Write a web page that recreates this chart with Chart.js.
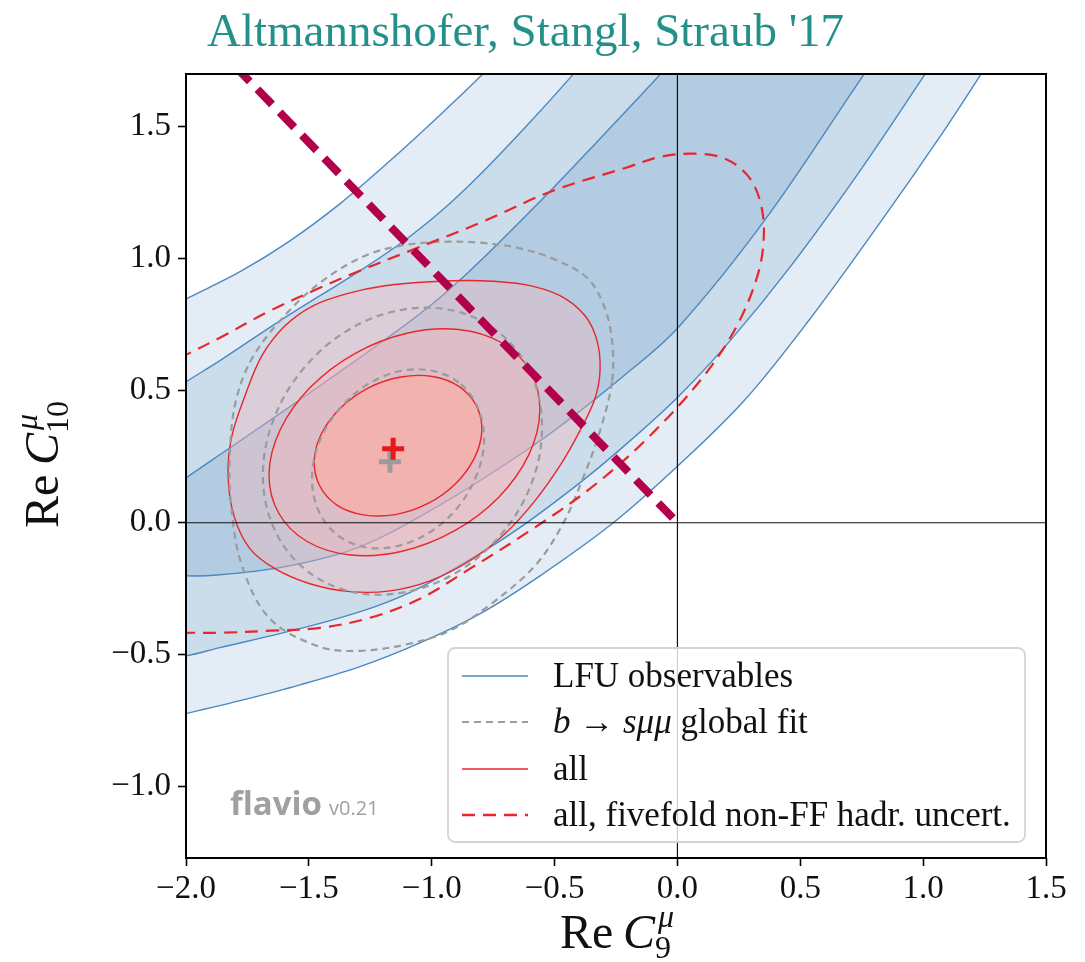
<!DOCTYPE html>
<html>
<head>
<meta charset="utf-8">
<script src="https://cdn.jsdelivr.net/npm/chart.js@4.4.0/dist/chart.umd.min.js"></script>
<style>
  html, body { margin: 0; padding: 0; background: #fff; }
  #wrap { width: 1085px; height: 962px; }
</style>
</head>
<body>
<div id="wrap"><canvas id="fit" width="1085" height="962"></canvas></div>
<script>
// axis ticks
const xTicks = [-2.0, -1.5, -1.0, -0.5, 0.0, 0.5, 1.0, 1.5];
const yTicks = [-1.0, -0.5, 0.0, 0.5, 1.0, 1.5];

// LFU observables: edges of the 1/2/3 sigma bands, [C9, C10]
const lfu3Upper = [[-2.27,0.72],[-2.0,0.848],[-1.78,0.951],[-1.577,1.068],[-1.374,1.208],[-1.17,1.371],[-0.966,1.545],[-0.795,1.697],[-0.6,1.883]];
const lfu3Lower = [[-2.27,-0.788],[-2.0,-0.723],[-1.78,-0.674],[-1.536,-0.614],[-1.292,-0.545],[-1.048,-0.455],[-0.804,-0.345],[-0.559,-0.201],[-0.266,-0.004],[-0.002,0.212],[0.271,0.462],[0.54,0.773],[0.824,1.136],[1.068,1.462],[1.231,1.693],[1.354,1.871]];
const lfu2Upper = [[-2.27,0.371],[-2.0,0.534],[-1.862,0.614],[-1.618,0.765],[-1.28,0.962],[-1.101,1.076],[-0.946,1.193],[-0.804,1.318],[-0.621,1.496],[-0.43,1.693],[-0.274,1.864]];
const lfu2Lower = [[-2.27,-0.534],[-2.0,-0.504],[-1.862,-0.473],[-1.618,-0.42],[-1.414,-0.371],[-1.21,-0.311],[-1.048,-0.246],[-0.804,-0.117],[-0.625,-0.008],[-0.396,0.152],[-0.234,0.277],[-0.002,0.473],[0.214,0.689],[0.462,0.973],[0.743,1.333],[1.003,1.693],[1.15,1.902]];
const lfu1Upper = [[-2.27,-0.008],[-2.0,0.17],[-1.821,0.284],[-1.426,0.538],[-1.048,0.792],[-0.844,0.955],[-0.56,1.216],[-0.315,1.455],[-0.075,1.693],[0.092,1.864]];
const lfu1Lower = [[-2.27,-0.182],[-2.0,-0.201],[-1.862,-0.197],[-1.618,-0.17],[-1.373,-0.117],[-1.21,-0.057],[-1.048,0.023],[-0.804,0.159],[-0.519,0.337],[-0.218,0.557],[0.002,0.739],[0.36,1.152],[0.755,1.693],[0.905,1.894]];

// "all" fit contours (closed)
const all1 = [[-0.818,0.443],[-0.796,0.348],[-0.827,0.244],[-0.904,0.147],[-1.017,0.072],[-1.148,0.031],[-1.278,0.030],[-1.386,0.067],[-1.456,0.140],[-1.478,0.236],[-1.448,0.339],[-1.370,0.436],[-1.257,0.511],[-1.126,0.552],[-0.997,0.554],[-0.888,0.516]];
const all2 = [[-0.598,0.573],[-0.560,0.423],[-0.605,0.257],[-0.727,0.097],[-0.908,-0.031],[-1.120,-0.108],[-1.330,-0.122],[-1.507,-0.071],[-1.623,0.037],[-1.662,0.186],[-1.616,0.353],[-1.494,0.513],[-1.313,0.641],[-1.101,0.718],[-0.891,0.732],[-0.714,0.681]];
const all3 = [[-0.315,0.576],[-0.327,0.689],[-0.376,0.784],[-0.478,0.860],[-0.620,0.902],[-0.804,0.917],[-1.007,0.913],[-1.190,0.898],[-1.332,0.871],[-1.483,0.822],[-1.597,0.746],[-1.691,0.633],[-1.760,0.481],[-1.813,0.330],[-1.829,0.186],[-1.805,0.027],[-1.740,-0.098],[-1.638,-0.174],[-1.496,-0.231],[-1.332,-0.261],[-1.170,-0.258],[-1.007,-0.220],[-0.844,-0.144],[-0.702,-0.042],[-0.580,0.083],[-0.478,0.216],[-0.397,0.348],[-0.336,0.470]];

// b -> s mu mu global fit contours (closed)
const global1 = [[-0.882,0.525],[-0.810,0.431],[-0.787,0.309],[-0.818,0.178],[-0.897,0.055],[-1.013,-0.039],[-1.148,-0.090],[-1.280,-0.091],[-1.392,-0.040],[-1.464,0.053],[-1.487,0.175],[-1.457,0.307],[-1.377,0.430],[-1.261,0.524],[-1.127,0.575],[-0.994,0.575]];
const global2 = [[-0.717,0.714],[-0.593,0.559],[-0.551,0.361],[-0.594,0.148],[-0.718,-0.045],[-0.902,-0.190],[-1.120,-0.265],[-1.337,-0.259],[-1.521,-0.172],[-1.644,-0.017],[-1.687,0.181],[-1.643,0.393],[-1.520,0.586],[-1.336,0.732],[-1.118,0.807],[-0.901,0.801]];
const global3 = [[-0.266,0.538],[-0.266,0.689],[-0.299,0.822],[-0.368,0.928],[-0.506,1.000],[-0.653,1.042],[-0.804,1.061],[-0.967,1.064],[-1.129,1.049],[-1.280,1.008],[-1.455,0.909],[-1.610,0.773],[-1.732,0.621],[-1.797,0.462],[-1.821,0.273],[-1.817,0.072],[-1.772,-0.163],[-1.658,-0.364],[-1.455,-0.470],[-1.292,-0.485],[-1.089,-0.458],[-0.926,-0.409],[-0.763,-0.311],[-0.580,-0.163],[-0.466,-0.004],[-0.384,0.170],[-0.315,0.348]];

// all, fivefold non-FF hadronic uncertainty (runs off the left edge)
const allFivefold = [[-2.187,-0.424],[-2.0,-0.417],[-1.862,-0.417],[-1.658,-0.409],[-1.455,-0.398],[-1.251,-0.360],[-1.048,-0.288],[-0.844,-0.174],[-0.600,-0.030],[-0.356,0.129],[-0.132,0.311],[0.092,0.538],[0.238,0.739],[0.328,0.943],[0.352,1.095],[0.336,1.220],[0.287,1.314],[0.194,1.379],[0.072,1.398],[-0.071,1.386],[-0.209,1.345],[-0.506,1.258],[-0.804,1.136],[-1.089,1.030],[-1.292,0.955],[-1.455,0.890],[-1.658,0.803],[-1.862,0.701],[-2.0,0.636],[-2.187,0.549]];

// thick dashed direction line and best fit points
const directionLine = [[-1.80,1.729],[0.0,0.0]];
const bestFitAll = [[-1.157,0.280]];
const bestFitGlobal = [[-1.170,0.231]];

const legendLabels = ['LFU observables', 'b \u2192 s\u03bc\u03bc global fit', 'all', 'all, fivefold non-FF hadr. uncert.'];

const serif = '"Liberation Serif", "Times New Roman", serif';
const blueLine = '#4a88c2';
const redLine = '#e8262c';
const greyLine = '#9b9b9b';

const pts = arr => arr.map(([x, y]) => ({x, y}));
const band = (upper, lower) => pts(upper.concat(lower.slice().reverse()));

function lineSet(data, opts) {
  return Object.assign({
    data, showLine: true, pointRadius: 0, tension: 0.35, capBezierPoints: false,
    clip: 0, fill: false, borderWidth: 1.4
  }, opts);
}

const datasets = [
  lineSet(band(lfu3Upper, lfu3Lower), {order: 20, fill: 'shape', backgroundColor: '#e4edf5', borderColor: blueLine}),
  lineSet(band(lfu2Upper, lfu2Lower), {order: 19, fill: 'shape', backgroundColor: '#cbdcea', borderColor: blueLine}),
  lineSet(band(lfu1Upper, lfu1Lower), {order: 18, fill: 'shape', backgroundColor: '#b3cce2', borderColor: blueLine}),
  lineSet(pts(all3), {order: 15, closed: true, fill: 'shape', backgroundColor: 'rgba(255,180,180,0.33)', borderColor: redLine}),
  lineSet(pts(all2), {order: 14, closed: true, fill: 'shape', backgroundColor: 'rgba(255,175,175,0.33)', borderColor: redLine}),
  lineSet(pts(all1), {order: 13, closed: true, fill: 'shape', backgroundColor: 'rgba(255,170,160,0.6)', borderColor: redLine}),
  lineSet(pts(global3), {order: 10, closed: true, borderColor: greyLine, borderWidth: 2.2, borderDash: [7, 5]}),
  lineSet(pts(global2), {order: 9, closed: true, borderColor: greyLine, borderWidth: 2.2, borderDash: [7, 5]}),
  lineSet(pts(global1), {order: 8, closed: true, borderColor: greyLine, borderWidth: 2.2, borderDash: [7, 5]}),
  lineSet(pts(allFivefold), {order: 7, borderColor: redLine, borderWidth: 2.2, borderDash: [13, 8]}),
  lineSet(pts(directionLine), {order: 5, tension: 0, borderColor: '#b3004a', borderWidth: 8, borderDash: [21, 11]}),
  {data: pts(bestFitGlobal), order: 2, pointStyle: 'cross', pointRadius: 11, pointBorderWidth: 5, pointBorderColor: '#9b9b9b', showLine: false},
  {data: pts(bestFitAll), order: 1, pointStyle: 'cross', pointRadius: 11, pointBorderWidth: 5, pointBorderColor: '#e31a1c', showLine: false}
];

// closed contours: let the spline wrap round
const closeLoops = {
  id: 'closeLoops',
  afterDatasetUpdate(chart, args) {
    const ds = chart.data.datasets[args.index];
    if (ds.closed && args.meta.dataset) {
      args.meta.dataset._loop = true;
      args.meta.dataset._fullLoop = true;
    }
  }
};

function drawRuns(ctx, runs, x, y) {
  for (const [text, style, size, dy] of runs) {
    ctx.font = `${style} ${size}px ${serif}`;
    ctx.fillText(text, x, y + (dy || 0));
    x += ctx.measureText(text).width;
  }
  return x;
}

function axisLabel(ctx, x, y, sub) {
  let cx = drawRuns(ctx, [['Re', 'normal', 48], ['\u2009', 'normal', 48], ['C', 'italic', 48]], x, y);
  ctx.font = `italic 32px ${serif}`;
  ctx.fillText('\u03bc', cx + 3, y - 21);
  ctx.font = `normal 32px ${serif}`;
  ctx.fillText(sub, cx, y + 10);
}

const decor = {
  id: 'decor',
  afterDatasetsDraw(chart) {
    const {ctx, chartArea: a, scales: {x, y}} = chart;
    ctx.save();
    // zero lines
    const x0 = x.getPixelForValue(0), y0 = y.getPixelForValue(0);
    ctx.strokeStyle = '#111';
    ctx.lineWidth = 1.2;
    ctx.beginPath();
    ctx.moveTo(x0, a.top); ctx.lineTo(x0, a.bottom);
    ctx.moveTo(a.left, y0); ctx.lineTo(a.right, y0);
    ctx.stroke();

    // flavio watermark
    ctx.fillStyle = '#a0a0a0';
    ctx.textBaseline = 'alphabetic';
    ctx.font = 'bold 33px "Open Sans", sans-serif';
    ctx.fillText('flavio', 230, 815);
    const wx = 230 + ctx.measureText('flavio').width + 7;
    ctx.font = '20px "Open Sans", sans-serif';
    ctx.fillText('v0.21', wx, 815);

    // legend
    const lx = 448, ly = 648, lw = 577, lh = 194;
    ctx.beginPath();
    ctx.roundRect(lx, ly, lw, lh, 7);
    ctx.fillStyle = 'rgba(255,255,255,0.8)';
    ctx.fill();
    ctx.strokeStyle = '#d4d4d4';
    ctx.lineWidth = 1.8;
    ctx.stroke();
    const rows = [676, 722, 769, 815];
    const samples = [
      {color: blueLine, width: 1.4, dash: []},
      {color: greyLine, width: 2.2, dash: [7, 5]},
      {color: redLine, width: 1.4, dash: []},
      {color: redLine, width: 2.6, dash: [13, 8]}
    ];
    samples.forEach((s, i) => {
      ctx.beginPath();
      ctx.setLineDash(s.dash);
      ctx.strokeStyle = s.color;
      ctx.lineWidth = s.width;
      ctx.moveTo(462, rows[i]); ctx.lineTo(528, rows[i]);
      ctx.stroke();
    });
    ctx.setLineDash([]);
    ctx.fillStyle = '#111';
    ctx.textBaseline = 'alphabetic';
    const fs = 35;
    const base = r => r + 11;
    drawRuns(ctx, [[legendLabels[0], 'normal', fs]], 553, base(rows[0]));
    drawRuns(ctx, [['b', 'italic', fs], [' \u2192 ', 'normal', fs], ['s\u03bc\u03bc', 'italic', fs], [' global fit', 'normal', fs]], 553, base(rows[1]));
    drawRuns(ctx, [[legendLabels[2], 'normal', fs]], 553, base(rows[2]));
    drawRuns(ctx, [[legendLabels[3], 'normal', fs]], 553, base(rows[3]));

    // frame
    ctx.strokeStyle = '#000';
    ctx.lineWidth = 2;
    ctx.strokeRect(a.left, a.top, a.width, a.height);
    ctx.restore();
  },
  afterDraw(chart) {
    const {ctx} = chart;
    ctx.save();
    ctx.textBaseline = 'alphabetic';
    ctx.fillStyle = '#24908a';
    ctx.font = `47px ${serif}`;
    ctx.fillText("Altmannshofer, Stangl, Straub '17", 207, 46);

    ctx.fillStyle = '#111';
    axisLabel(ctx, 560, 948, '9');
    ctx.translate(58, 528);
    ctx.rotate(-Math.PI / 2);
    axisLabel(ctx, 0, 0, '10');
    ctx.restore();
  }
};

const tickFont = {family: serif, size: 33};
const fmt = v => v.toFixed(1).replace('-', '\u2212');

new Chart(document.getElementById('fit'), {
  type: 'scatter',
  data: {datasets},
  options: {
    responsive: false,
    devicePixelRatio: 1,
    animation: false,
    events: [],
    layout: {padding: {top: 74, right: 39, bottom: 0, left: 0}},
    plugins: {legend: {display: false}, tooltip: {enabled: false}, title: {display: false}},
    scales: {
      x: {
        type: 'linear', min: -2.0, max: 1.5,
        afterBuildTicks: s => { s.ticks = xTicks.map(value => ({value})); },
        afterFit: s => { s.height = 104; },
        ticks: {font: tickFont, color: '#111', padding: 4, maxRotation: 0, callback: fmt},
        grid: {drawOnChartArea: false, tickLength: 8, tickColor: '#000', tickWidth: 1.6},
        border: {display: false}
      },
      y: {
        type: 'linear', min: -1.27, max: 1.70,
        afterBuildTicks: s => { s.ticks = yTicks.map(value => ({value})); },
        afterFit: s => { s.width = 186; },
        ticks: {font: tickFont, color: '#111', padding: 7, callback: fmt},
        grid: {drawOnChartArea: false, tickLength: 8, tickColor: '#000', tickWidth: 1.6},
        border: {display: false}
      }
    }
  },
  plugins: [closeLoops, decor]
});
</script>
</body>
</html>
